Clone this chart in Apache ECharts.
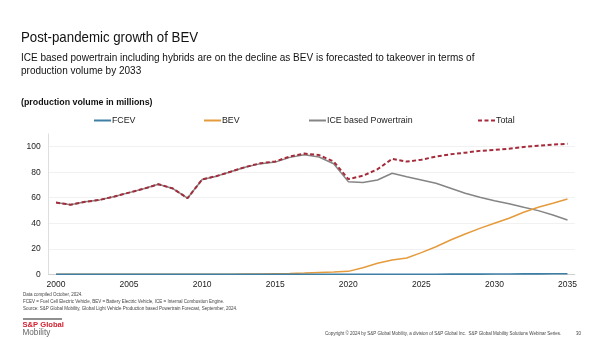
<!DOCTYPE html>
<html>
<head>
<meta charset="utf-8">
<script src="https://cdn.jsdelivr.net/npm/echarts@6/dist/echarts.min.js"></script>
<style>
  html, body { margin: 0; padding: 0; background: #fff; }
  #chart { width: 602px; height: 339px; }
</style>
</head>
<body>
<div id="chart"></div>
<script>
// Light vehicle production by powertrain, millions of units
const years = ['2000','2001','2002','2003','2004','2005','2006','2007','2008','2009',
  '2010','2011','2012','2013','2014','2015','2016','2017','2018','2019',
  '2020','2021','2022','2023','2024','2025','2026','2027','2028','2029',
  '2030','2031','2032','2033','2034','2035'];

const fcev = [0,0,0,0,0,0,0,0,0,0,
  0,0,0,0,0,0,0,0,0,0,
  0.01,0.02,0.02,0.02,0.03,0.05,0.07,0.1,0.13,0.16,
  0.2,0.25,0.3,0.35,0.4,0.45];

const bev = [0,0,0,0,0,0,0,0,0,0,
  0,0.05,0.1,0.2,0.3,0.5,0.7,1.0,1.5,1.8,
  2.3,5.2,8.6,11.2,12.8,17.0,21.6,26.9,31.6,36.0,
  40.0,43.9,48.6,52.5,55.6,59.0];

const ice = [56.2,54.5,56.8,58.3,61.0,64.0,67.0,70.6,67.2,59.6,
  74.3,76.9,80.5,84.0,86.7,87.9,91.6,93.6,91.9,86.6,
  72.6,72.0,73.9,79.2,76.5,73.9,71.3,67.4,63.5,60.3,
  57.7,55.3,52.5,49.9,46.5,42.6];

const total = [56.2,54.5,56.8,58.3,61.0,64.0,67.0,70.6,67.2,59.6,
  74.3,77.0,80.6,84.2,87.0,88.4,92.3,94.6,93.4,88.4,
  74.6,77.2,82.3,90.4,88.3,89.8,92.2,94.0,95.3,96.7,
  97.4,98.4,99.7,100.8,101.6,102.3];

const yTicks = [0, 20, 40, 60, 80, 100];

const FONT = '"Liberation Sans", Arial, sans-serif';

const chart = echarts.init(document.getElementById('chart'), null, { renderer: 'canvas' });

// one legend per entry so each can sit at its own spot above the plot
function legendAt(name, left) {
  return {
    data: [name], left: left, top: 116, padding: 0,
    itemWidth: 17, itemHeight: 8, itemGap: 0,
    itemStyle: { opacity: 0 },
    textStyle: { fontFamily: FONT, fontSize: 8.8, color: '#222', padding: [0, 0, 0, -4] }
  };
}

chart.setOption({
  animation: false,
  textStyle: { fontFamily: FONT },
  legend: [
    legendAt('FCEV', 93),
    legendAt('BEV', 203),
    legendAt('ICE based Powertrain', 308),
    legendAt('Total', 477)
  ],
  grid: { left: 48.7, right: 27.2, top: 133.9, bottom: 64.7 },
  xAxis: {
    type: 'category',
    data: years,
    boundaryGap: true,
    axisLine: { lineStyle: { color: '#cfcfcf', width: 1 } },
    axisTick: { show: false },
    axisLabel: { interval: 4, color: '#222', fontSize: 8.5, margin: 6, fontFamily: FONT }
  },
  yAxis: {
    type: 'value',
    min: yTicks[0], max: 110, interval: 20,
    axisLine: { show: true, lineStyle: { color: '#dedede' } },
    axisTick: { show: false },
    axisLabel: { color: '#222', fontSize: 8.5, margin: 8, showMaxLabel: false, fontFamily: FONT },
    splitLine: { lineStyle: { color: ['#f1f1f1','#f1f1f1','#f1f1f1','#f1f1f1','#f1f1f1','#f1f1f1','rgba(0,0,0,0)'], width: 1 } }
  },
  series: [
    { name: 'FCEV', type: 'line', data: fcev, symbol: 'none', z: 5,
      lineStyle: { color: '#3f7fa6', width: 1.6 }, itemStyle: { color: '#3f7fa6' } },
    { name: 'BEV', type: 'line', data: bev, symbol: 'none', z: 4,
      lineStyle: { color: '#e59b3c', width: 1.5 }, itemStyle: { color: '#e59b3c' } },
    { name: 'ICE based Powertrain', type: 'line', data: ice, symbol: 'none', z: 3,
      lineStyle: { color: '#858585', width: 1.5 }, itemStyle: { color: '#858585' } },
    { name: 'Total', type: 'line', data: total, symbol: 'none', z: 6,
      lineStyle: { color: '#a52a3a', width: 2, type: [4, 2.5] }, itemStyle: { color: '#a52a3a' } }
  ],
  graphic: [
    { type: 'text', x: 21, y: 30.5, scaleX: 0.885, style: { text: 'Post-pandemic growth of BEV', fontFamily: FONT, fontSize: 15, fill: '#111' } },
    { type: 'text', x: 21, y: 51, scaleX: 0.91, style: {
      text: 'ICE based powertrain including hybrids are on the decline as BEV is forecasted to takeover in terms of\nproduction volume by 2033',
      fontFamily: FONT, fontSize: 11, lineHeight: 13, fill: '#111' } },
    { type: 'text', x: 21, y: 97, scaleX: 0.93, style: { text: '(production volume in millions)', fontFamily: FONT, fontSize: 9.5, fontWeight: 'bold', fill: '#111' } },
    { type: 'text', x: 23, y: 291, style: {
      text: 'Data compiled October, 2024.\nFCEV = Fuel Cell Electric Vehicle, BEV = Battery Electric Vehicle, ICE = Internal Combustion Engine.\nSource: S&P Global Mobility, Global Light Vehicle Production based Powertrain Forecast, September, 2024.',
      fontFamily: FONT, fontSize: 4.5, lineHeight: 7, fill: '#444' } },
    { type: 'rect', shape: { x: 23, y: 318.5, width: 39, height: 1 }, style: { fill: '#222' } },
    { type: 'text', x: 22.5, y: 320.5, style: { text: 'S&P Global', fontFamily: FONT, fontSize: 7.6, fontWeight: 'bold', fill: '#d3202f' } },
    { type: 'text', x: 22.5, y: 329, style: { text: 'Mobility', fontFamily: FONT, fontSize: 8.2, fill: '#666' } },
    { type: 'text', x: 325, y: 331, style: {
      text: 'Copyright \u00a9 2024 by S&P Global Mobility, a division of S&P Global Inc.  S&P Global Mobility Solutions Webinar Series.',
      fontFamily: FONT, fontSize: 4.5, fill: '#444' } },
    { type: 'text', x: 576, y: 331, style: { text: '30', fontFamily: FONT, fontSize: 4.5, fill: '#444' } }
  ]
});
</script>
</body>
</html>
